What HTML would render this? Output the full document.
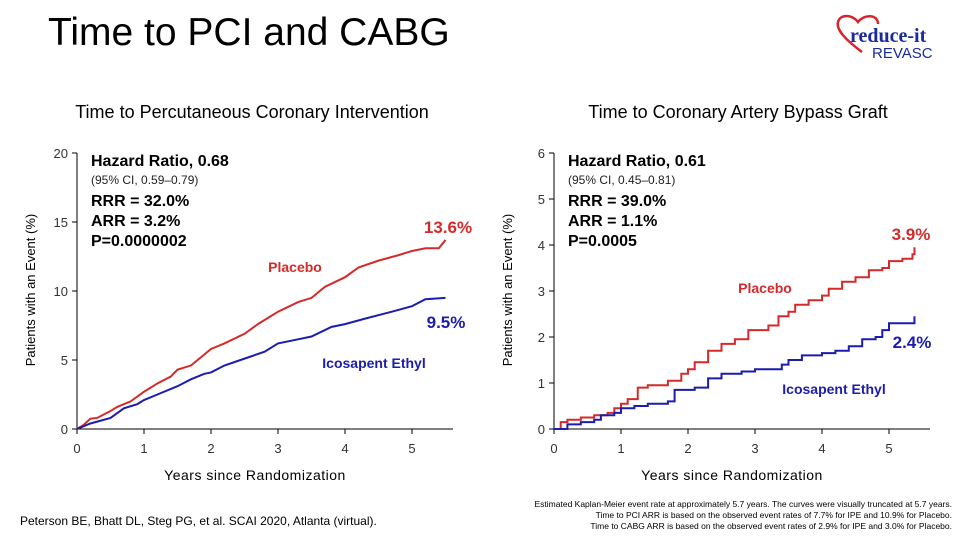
<!DOCTYPE html>
<html><head><meta charset="utf-8"><style>
body{margin:0;width:960px;height:540px;background:#fff;overflow:hidden;font-family:"Liberation Sans",Arial,sans-serif}
svg{position:absolute;left:0;top:0}
</style></head><body>
<svg id="s" width="960" height="540">
<text x="48" y="45" font-size="39" fill="#000">Time to PCI and CABG</text>
<g>
<path d="M862 52 C846 40 836 30 838 22 C840 14 852 14 858 22 C864 14 878 14 878 24" fill="none" stroke="#d8232a" stroke-width="2.5"/>
<text x="850" y="42" font-family="Liberation Serif,serif" font-weight="bold" font-size="20" fill="#1a2a9c">reduce-it</text>
<text x="872" y="58" font-size="15" fill="#1a2a9c">REVASC</text>
</g>
<text x="252" y="118" font-size="18" text-anchor="middle">Time to Percutaneous Coronary Intervention</text>
<text x="738" y="118" font-size="18" text-anchor="middle">Time to Coronary Artery Bypass Graft</text>
<g id="L"></g><g id="R"></g>
<text x="20" y="525" font-size="12">Peterson BE, Bhatt DL, Steg PG, et al. SCAI 2020, Atlanta (virtual).</text>
<g font-size="8.5" text-anchor="end">
<text x="952" y="507">Estimated Kaplan-Meier event rate at approximately 5.7 years. The curves were visually truncated at 5.7 years.</text>
<text x="952" y="518">Time to PCI ARR is based on the observed event rates of 7.7% for IPE and 10.9% for Placebo.</text>
<text x="952" y="529">Time to CABG ARR is based on the observed event rates of 2.9% for IPE and 3.0% for Placebo.</text>
</g>
</svg>
<script>
const pciYears=[0,.1,.2,.3,.5,.6,.8,1,1.2,1.4,1.5,1.7,1.9,2,2.2,2.5,2.7,3,3.3,3.5,3.7,4,4.2,4.5,4.8,5,5.2,5.4,5.45,5.5];
const pciPlacebo=[0,.3,.75,.8,1.3,1.6,2,2.7,3.3,3.8,4.3,4.6,5.4,5.8,6.2,6.9,7.6,8.5,9.2,9.5,10.3,11,11.7,12.2,12.6,12.9,13.1,13.1,13.4,13.7];
const pciIpeYears=[0,.2,.5,.7,.9,1,1.2,1.5,1.7,1.9,2,2.2,2.5,2.8,3,3.3,3.5,3.8,4,4.3,4.7,5,5.2,5.5];
const pciIpe=[0,.4,.8,1.5,1.8,2.1,2.5,3.1,3.6,4,4.1,4.6,5.1,5.6,6.2,6.5,6.7,7.4,7.6,8,8.5,8.9,9.4,9.5];
const cabgPlYears=[0,.1,.2,.4,.6,.8,.9,1,1.1,1.25,1.4,1.6,1.7,1.9,2,2.1,2.3,2.5,2.7,2.9,3.2,3.35,3.5,3.6,3.8,4,4.1,4.3,4.5,4.7,4.9,5,5.2,5.35,5.38];
const cabgPlacebo=[0,.15,.2,.25,.3,.35,.45,.55,.65,.9,.95,.95,1.05,1.2,1.3,1.45,1.7,1.85,1.95,2.15,2.25,2.45,2.55,2.7,2.8,2.9,3.05,3.2,3.3,3.45,3.5,3.65,3.7,3.8,3.95];
const cabgIpeYears=[0,.2,.4,.6,.7,.9,1,1.2,1.4,1.7,1.8,2.1,2.3,2.5,2.8,3,3.4,3.5,3.7,4,4.2,4.4,4.6,4.8,4.9,5,5.38,5.38];
const cabgIpe=[0,.1,.15,.2,.3,.35,.45,.5,.55,.6,.85,.9,1.1,1.2,1.25,1.3,1.4,1.5,1.6,1.65,1.7,1.8,1.95,2,2.15,2.3,2.35,2.45];
const xTicks=[0,1,2,3,4,5];
const pciYTicks=[0,5,10,15,20];
const cabgYTicks=[0,1,2,3,4,5,6];
const NS='http://www.w3.org/2000/svg';
function mk(p,t,a,txt){const e=document.createElementNS(NS,t);for(const k in a)e.setAttribute(k,a[k]);if(txt!==undefined)e.textContent=txt;p.appendChild(e);return e;}
function chart(g,o){
 const x0=o.x0,y0=429,yTop=153,pxYear=67,ymax=o.ymax;
 const X=v=>x0+v*pxYear, Y=v=>y0-(v/ymax)*(y0-yTop);
 let a=mk(g,'line',{x1:x0,y1:yTop,x2:x0,y2:y0,stroke:'#000'});
 
 a=mk(g,'line',{x1:x0,y1:y0,x2:o.xEnd,y2:y0,stroke:'#000'});
 
 o.yt.forEach(v=>{mk(g,'line',{x1:x0-5,x2:x0,y1:Y(v),y2:Y(v),stroke:'#000'});
  const t=mk(g,'text',{x:x0-9,y:Y(v)+5,'font-size':13,'text-anchor':'end',fill:'#333'},v);
  });
 xTicks.forEach(v=>{mk(g,'line',{x1:X(v),x2:X(v),y1:y0,y2:y0+5,stroke:'#000'});
  const t=mk(g,'text',{x:X(v),y:y0+24,'font-size':13,'text-anchor':'middle',fill:'#333'},v);
  });
 o.series.forEach(s=>{let d='M'+X(s.x[0])+' '+Y(s.y[0]);
  for(let i=1;i<s.x.length;i++){d+= o.step ? (' H'+X(s.x[i])+' V'+Y(s.y[i])) : (' L'+X(s.x[i])+' '+Y(s.y[i]));}
  const p=mk(g,'path',{d:d,fill:'none',stroke:s.c,'stroke-width':2});
  });
 let t=mk(g,'text',{x:x0+(o.xEnd-x0)/2-10,y:480,'font-size':14,'text-anchor':'middle','letter-spacing':'0.5'},'Years since Randomization');
 
 t=mk(g,'text',{transform:'translate('+(o.x0-42)+',290) rotate(-90)','font-size':13,'text-anchor':'middle'},'Patients with an Event (%)');
 
 const tx=x0+14;
 t=mk(g,'text',{x:tx,y:166,'font-size':16,'font-weight':'bold'},o.hr);
 t=mk(g,'text',{x:tx,y:184,'font-size':12,fill:'#222'},o.ci);
 o.st.forEach((s,i)=>{t=mk(g,'text',{x:tx,y:206+i*20,'font-size':16,'font-weight':'bold'},s);});
 o.labels.forEach(l=>{t=mk(g,'text',{x:l[0],y:l[1],'font-size':l[4],'font-weight':'bold',fill:l[3],'text-anchor':'middle'},l[2]);});
}
chart(document.getElementById('L'),{x0:77,xEnd:453,ymax:20,step:false,yt:pciYTicks,hr:'Hazard Ratio, 0.68',ci:'(95% CI, 0.59–0.79)',st:['RRR = 32.0%','ARR = 3.2%','P=0.0000002'],
 series:[{x:pciYears,y:pciPlacebo,c:'#d42a2a',n:'placebo-line'},{x:pciIpeYears,y:pciIpe,c:'#1c1cae',n:'icosapent-line'}],
 labels:[[448,233,'13.6%','#d42a2a',17,'placebo-end-value'],[446,328,'9.5%','#1c1cae',17,'icosapent-end-value'],[295,272,'Placebo','#d42a2a',14,'placebo-label'],[374,368,'Icosapent Ethyl','#1c1cae',14,'icosapent-label']]});
chart(document.getElementById('R'),{x0:554,xEnd:930,ymax:6,step:true,yt:cabgYTicks,hr:'Hazard Ratio, 0.61',ci:'(95% CI, 0.45–0.81)',st:['RRR = 39.0%','ARR = 1.1%','P=0.0005'],
 series:[{x:cabgPlYears,y:cabgPlacebo,c:'#d42a2a',n:'placebo-line'},{x:cabgIpeYears,y:cabgIpe,c:'#1c1cae',n:'icosapent-line'}],
 labels:[[911,240,'3.9%','#d42a2a',17,'placebo-end-value'],[912,348,'2.4%','#1c1cae',17,'icosapent-end-value'],[765,293,'Placebo','#d42a2a',14,'placebo-label'],[834,394,'Icosapent Ethyl','#1c1cae',14,'icosapent-label']]});
</script>
</body></html>
